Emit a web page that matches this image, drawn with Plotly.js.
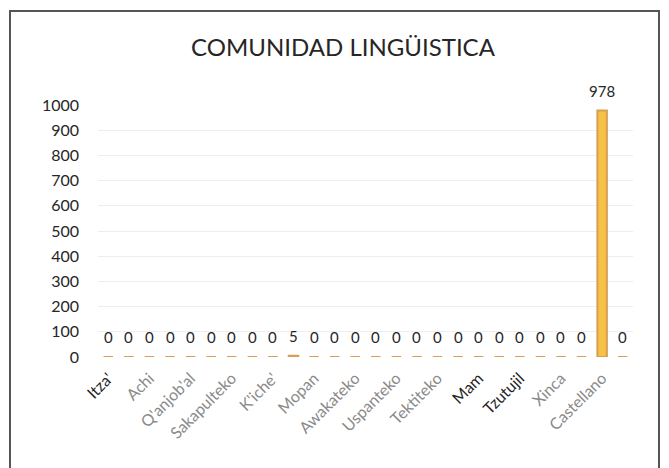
<!DOCTYPE html>
<html>
<head>
<meta charset="utf-8">
<script src="https://cdn.plot.ly/plotly-3.0.1.min.js"></script>
<style>
  html, body { margin: 0; padding: 0; background: #fff; }
  #wrap { position: relative; width: 669px; height: 468px; overflow: hidden; }
  #chart { width: 669px; height: 468px; }
  #frame { position: absolute; left: 9px; top: 10px; width: 651px; height: 480px;
           border: 2px solid #555; pointer-events: none; box-sizing: border-box; }
</style>
</head>
<body>
<div id="wrap">
  <div id="chart"></div>
  <div id="frame"></div>
</div>
<script>
// Categories (every other one is labelled in the reference)
const categories = [
  "Itza'", "Poqomchi'", "Achi", "Akateko", "Q'anjob'al", "Q'eqchi'",
  "Sakapulteko", "Chuj", "K'iche'", "Kaqchikel", "Mopan", "Ch'orti'",
  "Awakateko", "Jakalteko", "Uspanteko", "Ixil", "Tektiteko", "Poqomam",
  "Mam", "Sipakapense", "Tzutujil", "Chalchiteko", "Xinca", "Garífuna",
  "Castellano", "Otro"
];
const values = [0,0,0,0,0,0,0,0,0,5,0,0,0,0,0,0,0,0,0,0,0,0,0,0,978,0];
const shownLabels = ["Itza'", "Achi", "Q'anjob'al", "Sakapulteko", "K'iche'", "Mopan",
  "Awakateko", "Uspanteko", "Tektiteko", "Mam", "Tzutujil", "Xinca", "Castellano"];
const darkLabels = ["Itza'", "Mam", "Tzutujil"];
const yTicks = [0,100,200,300,400,500,600,700,800,900,1000];

const FONT = 'Lato, "Open Sans", sans-serif';
const ticktext = shownLabels.map(l => darkLabels.includes(l)
  ? l : '<span style="color:#8a8a8a">' + l + '</span>');

const trace = {
  type: 'bar',
  x: categories,
  y: values,
  width: 0.46,
  marker: { color: '#F6C247', line: { color: '#D59F55', width: 2 } },
  hoverinfo: 'none'
};

const annotations = categories.map((c, i) => ({
  x: c, y: values[i], xref: 'x', yref: 'y',
  text: String(values[i]), showarrow: false,
  yanchor: 'bottom', yshift: 9,
  font: { family: FONT, size: 15, color: '#262626' }
}));

const layout = {
  width: 669, height: 468,
  margin: { l: 98, r: 36, t: 105, b: 111 },
  paper_bgcolor: '#ffffff', plot_bgcolor: '#ffffff',
  showlegend: false,
  title: {
    text: 'COMUNIDAD LINGÜISTICA',
    x: 343 / 669, xanchor: 'center', xref: 'container',
    y: 1 - 48 / 468, yanchor: 'middle', yref: 'container',
    font: { family: FONT, size: 24, color: '#262626' }
  },
  xaxis: {
    type: 'category',
    tickmode: 'array',
    tickvals: shownLabels,
    ticktext: ticktext,
    tickangle: -45,
    showgrid: false, zeroline: false, showline: false,
    ticks: '',
    ticklabelstandoff: 8,
    range: [-0.5, categories.length - 0.5],
    tickfont: { family: FONT, size: 16, color: '#262626' }
  },
  yaxis: {
    range: [0, 1000],
    tickmode: 'array', tickvals: yTicks,
    showgrid: true, gridcolor: '#eeeeee', gridwidth: 1,
    zeroline: false, showline: false, ticks: '',
    ticklabelstandoff: 18,
    tickfont: { family: FONT, size: 16, color: '#262626' }
  },
  annotations: annotations
};

Plotly.newPlot('chart', [trace], layout, { staticPlot: true, displayModeBar: false });
</script>
</body>
</html>
